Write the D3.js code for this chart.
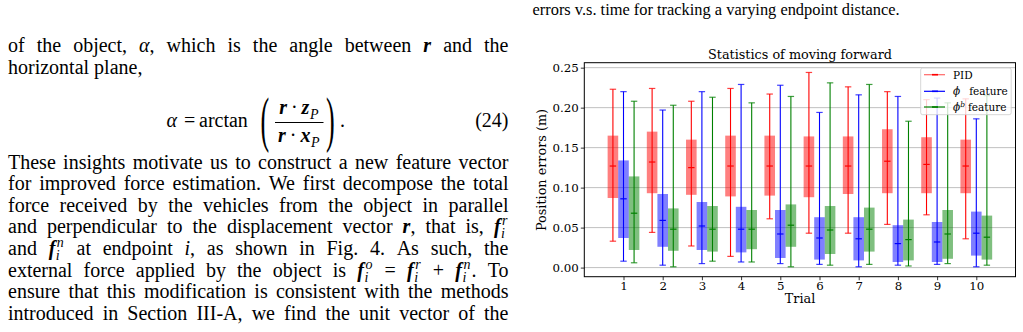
<!DOCTYPE html>
<html>
<head>
<meta charset="utf-8">
<script src="https://cdn.jsdelivr.net/npm/d3@7"></script>
<style>
  body { margin: 0; background: #fff; }
  svg { display: block; }
  .txt { font-family: "Liberation Serif", "Times New Roman", serif; font-size: 20px; fill: #000; }
  .it { font-style: italic; }
  .bi { font-style: italic; font-weight: bold; }
  .sm { font-size: 14px; }
  .chart text { font-family: "DejaVu Serif", serif; fill: #000; }
</style>
</head>
<body>
<svg id="page" width="1023" height="332"></svg>
<script>
// ---- chart data ----
const trials = [1, 2, 3, 4, 5, 6, 7, 8, 9, 10];
const yTicks = [0, 0.05, 0.10, 0.15, 0.20, 0.25];

const pidLow  = [0.033, 0.044, 0.027, 0.014, 0.061, 0.043, 0.043, 0.054, 0.066, 0.036];
const pidQ1   = [0.087, 0.093, 0.091, 0.089, 0.090, 0.088, 0.092, 0.093, 0.093, 0.093];
const pidMed  = [0.127, 0.132, 0.125, 0.127, 0.127, 0.127, 0.127, 0.133, 0.129, 0.127];
const pidQ3   = [0.165, 0.170, 0.160, 0.165, 0.165, 0.164, 0.164, 0.173, 0.163, 0.160];
const pidHigh = [0.223, 0.224, 0.208, 0.224, 0.217, 0.244, 0.226, 0.220, 0.210, 0.211];

const phiLow  = [0.008, 0.003, 0.005, 0.007, 0.005, 0.004, 0.001, 0.003, 0.004, 0.001];
const phiQ1   = [0.037, 0.026, 0.022, 0.019, 0.012, 0.010, 0.009, 0.007, 0.007, 0.015];
const phiMed  = [0.086, 0.059, 0.052, 0.048, 0.042, 0.037, 0.036, 0.030, 0.032, 0.043];
const phiQ3   = [0.134, 0.092, 0.082, 0.076, 0.072, 0.063, 0.063, 0.053, 0.057, 0.070];
const phiHigh = [0.220, 0.197, 0.220, 0.229, 0.228, 0.194, 0.216, 0.214, 0.212, 0.186];

const phibLow  = [0.006, 0.001, 0.008, 0.007, 0.001, 0.003, 0.004, 0.002, 0.005, 0.003];
const phibQ1   = [0.022, 0.021, 0.020, 0.023, 0.026, 0.017, 0.020, 0.009, 0.011, 0.010];
const phibMed  = [0.068, 0.048, 0.048, 0.048, 0.053, 0.047, 0.048, 0.035, 0.042, 0.038];
const phibQ3   = [0.114, 0.074, 0.077, 0.072, 0.079, 0.077, 0.075, 0.060, 0.072, 0.065];
const phibHigh = [0.208, 0.203, 0.213, 0.206, 0.214, 0.231, 0.229, 0.183, 0.206, 0.215];

// ---- page text ----
const captionTop = "errors v.s. time for tracking a varying endpoint distance.";
const parTop = [
  "of the object, _α_, which is the angle between *r* and the",
  "horizontal plane,"
];
const parBottom = [
  "These insights motivate us to construct a new feature vector",
  "for improved force estimation. We first decompose the total",
  "force received by the vehicles from the object in parallel",
  "and perpendicular to the displacement vector *r*, that is, [f,i,r]",
  "and [f,i,n] at endpoint _i_, as shown in Fig. 4. As such, the",
  "external force applied by the object is [f,i,o] = [f,i,r] + [f,i,n]. To",
  "ensure that this modification is consistent with the methods",
  "introduced in Section III-A, we find the unit vector of the"
];

const svg = d3.select("#page");

// renders one word (with inline math markup) into g, returns its width
function renderWord(g, word) {
  let x = 0;
  const re = /\*([^*]+)\*|_([^_]+)_|\[([^\]]+)\]|([^*_\[\]]+)/g;
  let m;
  while ((m = re.exec(word))) {
    if (m[3]) {
      const [b, sub, sup] = m[3].split(",");
      const t = g.append("text").attr("class", "txt bi").attr("x", x).attr("y", 0).text(b);
      x += t.node().getComputedTextLength();
      let w = 0;
      if (sub) {
        const s = g.append("text").attr("class", "txt it sm").attr("x", x + 0.5).attr("y", 5).text(sub);
        w = Math.max(w, s.node().getComputedTextLength() + 0.5);
      }
      if (sup) {
        const s = g.append("text").attr("class", "txt it sm").attr("x", x + 1.5).attr("y", -8).text(sup);
        w = Math.max(w, s.node().getComputedTextLength() + 1.5);
      }
      x += w + 1;
    } else {
      const cls = m[1] ? "txt bi" : m[2] ? "txt it" : "txt";
      const t = g.append("text").attr("class", cls).attr("x", x).attr("y", 0).text(m[1] || m[2] || m[4]);
      x += t.node().getComputedTextLength();
    }
  }
  return x;
}

function drawLine(str, x0, x1, y, justify) {
  const words = str.split(" ");
  const gs = words.map(w => {
    const g = svg.append("g");
    return { g, w: renderWord(g, w) };
  });
  const total = d3.sum(gs, d => d.w);
  const gap = justify && gs.length > 1 ? (x1 - x0 - total) / (gs.length - 1) : 5;
  let x = x0;
  gs.forEach(d => {
    d.g.attr("transform", `translate(${x},${y})`);
    x += d.w + gap;
  });
}

const TL = 8, TR = 508.5;
svg.append("text").attr("class", "txt").style("font-size", "16.4px")
  .attr("x", 532.5).attr("y", 14.5).text(captionTop);
drawLine(parTop[0], TL, TR, 52, true);
drawLine(parTop[1], TL, TR, 73.5, false);
parBottom.forEach((s, i) => drawLine(s, TL, TR, 168.5 + i * 21.6, true));

// ---- equation (24) ----
const eq = svg.append("g");
eq.append("text").attr("class", "txt it").attr("x", 166.5).attr("y", 127).text("α");
eq.append("text").attr("class", "txt").attr("x", 184).attr("y", 127).text("=");
eq.append("text").attr("class", "txt").attr("x", 199).attr("y", 127).text("arctan");
// tall thin parentheses
eq.append("text").attr("class", "txt").attr("transform", "translate(260.5,140) scale(0.42,1)")
  .style("font-size", "62px").style("font-weight", "normal").text("(");
eq.append("text").attr("class", "txt").attr("transform", "translate(326,140) scale(0.42,1)")
  .style("font-size", "62px").style("font-weight", "normal").text(")");
eq.append("text").attr("class", "txt").attr("x", 340).attr("y", 127).text(".");
eq.append("line").attr("x1", 275).attr("x2", 323.5).attr("y1", 122.5).attr("y2", 122.5)
  .attr("stroke", "#000").attr("stroke-width", 1);
function fracPart(str, y) {
  const g = eq.append("g");
  let x = 0;
  str.split(" ").forEach(w => {
    const sub = g.append("g").attr("transform", `translate(${x},0)`);
    x += renderWord(sub, w) + 4;
  });
  g.attr("transform", `translate(${299.3 - (x - 4) / 2},${y})`);
}
fracPart("*r* · [z,P,]", 113.5);
fracPart("*r* · [x,P,]", 141.5);
eq.append("text").attr("class", "txt").attr("x", TR).attr("y", 127).attr("text-anchor", "end").text("(24)");

// ---- chart ----
const chart = svg.append("g").attr("class", "chart");
const X0 = 584.3, X1 = 1015.5, Y0 = 276.7, Y1 = 62.7;
const x = d3.scaleLinear().domain([0, 11]).range([X0, X1]);
const y = d3.scaleLinear().domain([-0.0114, 0.2562]).range([Y0, Y1]);

chart.append("g").selectAll("line").data(yTicks).join("line")
  .attr("x1", X0).attr("x2", X1)
  .attr("y1", d => y(d)).attr("y2", d => y(d))
  .attr("stroke", "#b0b0b0").attr("stroke-width", 0.8);

const series = [
  { name: "PID", color: "#ff0000", off: -0.27, low: pidLow, q1: pidQ1, med: pidMed, q3: pidQ3, high: pidHigh },
  { name: "phi", color: "#0000ff", off: 0, low: phiLow, q1: phiQ1, med: phiMed, q3: phiQ3, high: phiHigh },
  { name: "phib", color: "#008000", off: 0.27, low: phibLow, q1: phibQ1, med: phibMed, q3: phibQ3, high: phibHigh }
];
const bw = 0.27;

series.forEach(s => {
  const rows = trials.map((t, i) => ({
    c: t + s.off, low: s.low[i], q1: s.q1[i], med: s.med[i], q3: s.q3[i], high: s.high[i]
  }));
  const g = chart.append("g");
  g.selectAll("rect").data(rows).join("rect")
    .attr("x", d => x(d.c - bw / 2))
    .attr("width", d => x(d.c + bw / 2) - x(d.c - bw / 2))
    .attr("y", d => y(d.q3))
    .attr("height", d => y(d.q1) - y(d.q3))
    .attr("fill", s.color).attr("fill-opacity", 0.5);
  g.selectAll(".whisker").data(rows).join("line").attr("class", "whisker")
    .attr("x1", d => x(d.c)).attr("x2", d => x(d.c))
    .attr("y1", d => y(d.low)).attr("y2", d => y(d.high))
    .attr("stroke", s.color).attr("stroke-width", 1.1);
  ["low", "high", "med"].forEach(k => {
    g.selectAll(".cap-" + k).data(rows).join("line").attr("class", "cap-" + k)
      .attr("x1", d => x(d.c) - 3.2).attr("x2", d => x(d.c) + 3.2)
      .attr("y1", d => y(d[k])).attr("y2", d => y(d[k]))
      .attr("stroke", s.color).attr("stroke-width", 1.2)
      .attr("stroke-opacity", k === "med" ? 1 : 0.75);
  });
});

// frame
chart.append("rect").attr("x", X0).attr("y", Y1).attr("width", X1 - X0).attr("height", Y0 - Y1)
  .attr("fill", "none").attr("stroke", "#000").attr("stroke-width", 1);

const yAxis = chart.append("g").attr("transform", `translate(${X0},0)`)
  .call(d3.axisLeft(y).tickValues(yTicks).tickFormat(d3.format(".2f")).tickSize(3.5).tickPadding(2));
const xAxis = chart.append("g").attr("transform", `translate(0,${Y0})`)
  .call(d3.axisBottom(x).tickValues(trials).tickFormat(d3.format("d")).tickSize(3.5).tickPadding(1));
[yAxis, xAxis].forEach(a => {
  a.select(".domain").remove();
  a.selectAll("text").style("font-family", "'DejaVu Serif', serif").style("font-size", "11.8px").attr("fill", "#000");
  a.selectAll(".tick line").attr("stroke", "#000").attr("stroke-width", 0.8);
});

chart.append("text").attr("x", 800).attr("y", 58.5).attr("text-anchor", "middle")
  .style("font-size", "12.8px").text("Statistics of moving forward");
chart.append("text").attr("x", 800).attr("y", 303).attr("text-anchor", "middle")
  .style("font-size", "12.8px").text("Trial");
chart.append("text").attr("transform", "translate(546,170) rotate(-90)").attr("text-anchor", "middle")
  .style("font-size", "12.8px").text("Position errors (m)");

// legend
const leg = chart.append("g");
leg.append("rect").attr("x", 920.7).attr("y", 68).attr("width", 90.5).attr("height", 46.7).attr("rx", 2)
  .attr("fill", "#fff").attr("fill-opacity", 0.8).attr("stroke", "#cccccc").attr("stroke-width", 0.8);
const legRows = [
  { color: "#ff0000", op: 0.6, y: 74.7 },
  { color: "#0000ff", op: 1, y: 91.3 },
  { color: "#008000", op: 1, y: 107 }
];
legRows.forEach(r => {
  leg.append("line").attr("x1", 924).attr("x2", 945).attr("y1", r.y).attr("y2", r.y)
    .attr("stroke", r.color).attr("stroke-opacity", r.op).attr("stroke-width", 1.2);
  leg.append("line").attr("x1", 932).attr("x2", 938).attr("y1", r.y).attr("y2", r.y)
    .attr("stroke", r.color).attr("stroke-width", 1.6);
});
leg.append("text").attr("x", 953).attr("y", 78.5).style("font-size", "10.5px").text("PID");
const lt2 = leg.append("text").attr("x", 953).attr("y", 95).style("font-size", "10.5px");
lt2.append("tspan").style("font-style", "italic").text("ϕ");
lt2.append("tspan").attr("dx", 9).text("feature");
const lt3 = leg.append("text").attr("x", 953).attr("y", 110.7).style("font-size", "10.5px");
lt3.append("tspan").style("font-style", "italic").text("ϕ");
lt3.append("tspan").style("font-style", "italic").style("font-size", "7.5px").attr("dy", -4).text("b");
lt3.append("tspan").attr("dx", 3).attr("dy", 4).text("feature");
</script>
</body>
</html>
